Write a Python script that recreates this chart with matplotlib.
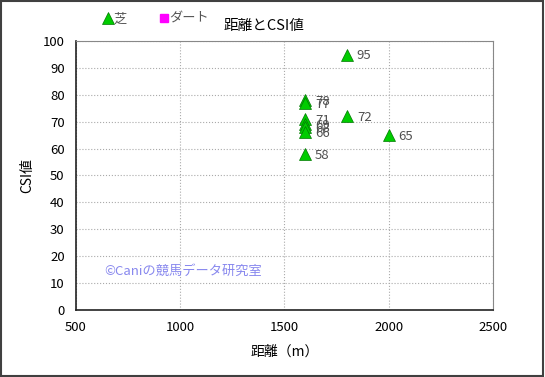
import matplotlib.pyplot as plt
from matplotlib.patches import Rectangle

plt.rcParams['font.family'] = ['Noto Sans CJK JP', 'DejaVu Sans']

# 芝 (turf) races: distance (m) and CSI value
shiba_dist = [1600, 1600, 1600, 1600, 1600, 1600, 1600, 1800, 1800, 2000]
shiba_csi = [78, 77, 71, 69, 68, 66, 58, 95, 72, 65]

# ダート (dirt) races: none in this chart
dirt_dist = []
dirt_csi = []

xticks = [500, 1000, 1500, 2000, 2500]
yticks = list(range(0, 101, 10))

fig = plt.figure(figsize=(5.45, 3.77), dpi=100)
ax = fig.add_axes([0.139, 0.178, 0.766, 0.713])

ax.plot(shiba_dist, shiba_csi, linestyle='none', marker='^', markersize=8,
        markerfacecolor='#00cc00', markeredgecolor='#007700', markeredgewidth=0.5,
        label='芝', zorder=3)
ax.plot(dirt_dist, dirt_csi, linestyle='none', marker='s', markersize=6,
        markerfacecolor='#ff00ff', markeredgecolor='#ff00ff', label='ダート')

for x, y in zip(shiba_dist, shiba_csi):
    ax.annotate(str(y), (x, y), xytext=(7, -1), textcoords='offset points',
                ha='left', va='center', fontsize=9.5, color='#505050')

ax.set_xlim(500, 2500)
ax.set_ylim(0, 100)
ax.set_xticks(xticks)
ax.set_yticks(yticks)
ax.tick_params(length=0, labelsize=9.5, pad=8)
ax.grid(True, color='#aaaaaa', linestyle=':', linewidth=0.8)
for side in ['top', 'right']:
    ax.spines[side].set_color('#888888')
for side in ['left', 'bottom']:
    ax.spines[side].set_color('#222222')
    ax.spines[side].set_linewidth(1.2)

ax.set_xlabel('距離（m）', fontsize=10, labelpad=8)
ax.set_ylabel('CSI値', fontsize=10, labelpad=6)

ax.text(0.068, 0.145, '©Caniの競馬データ研究室', transform=ax.transAxes,
        fontsize=9.5, color='#8888ee', ha='left', va='center')

fig.text(0.485, 0.93, '距離とCSI値', fontsize=10.5, ha='center', va='center')
fig.legend(loc='center left', bbox_to_anchor=(0.17, 0.95), ncol=2, frameon=False,
           fontsize=9.5, handlelength=0.6, handletextpad=0.1, columnspacing=2.5,
           labelcolor='#555555')

fig.patches.append(Rectangle((0.002, 0.003), 0.995, 0.994, transform=fig.transFigure,
                             fill=False, edgecolor='#404040', linewidth=1.5))

fig.savefig('out.png', dpi=100)
